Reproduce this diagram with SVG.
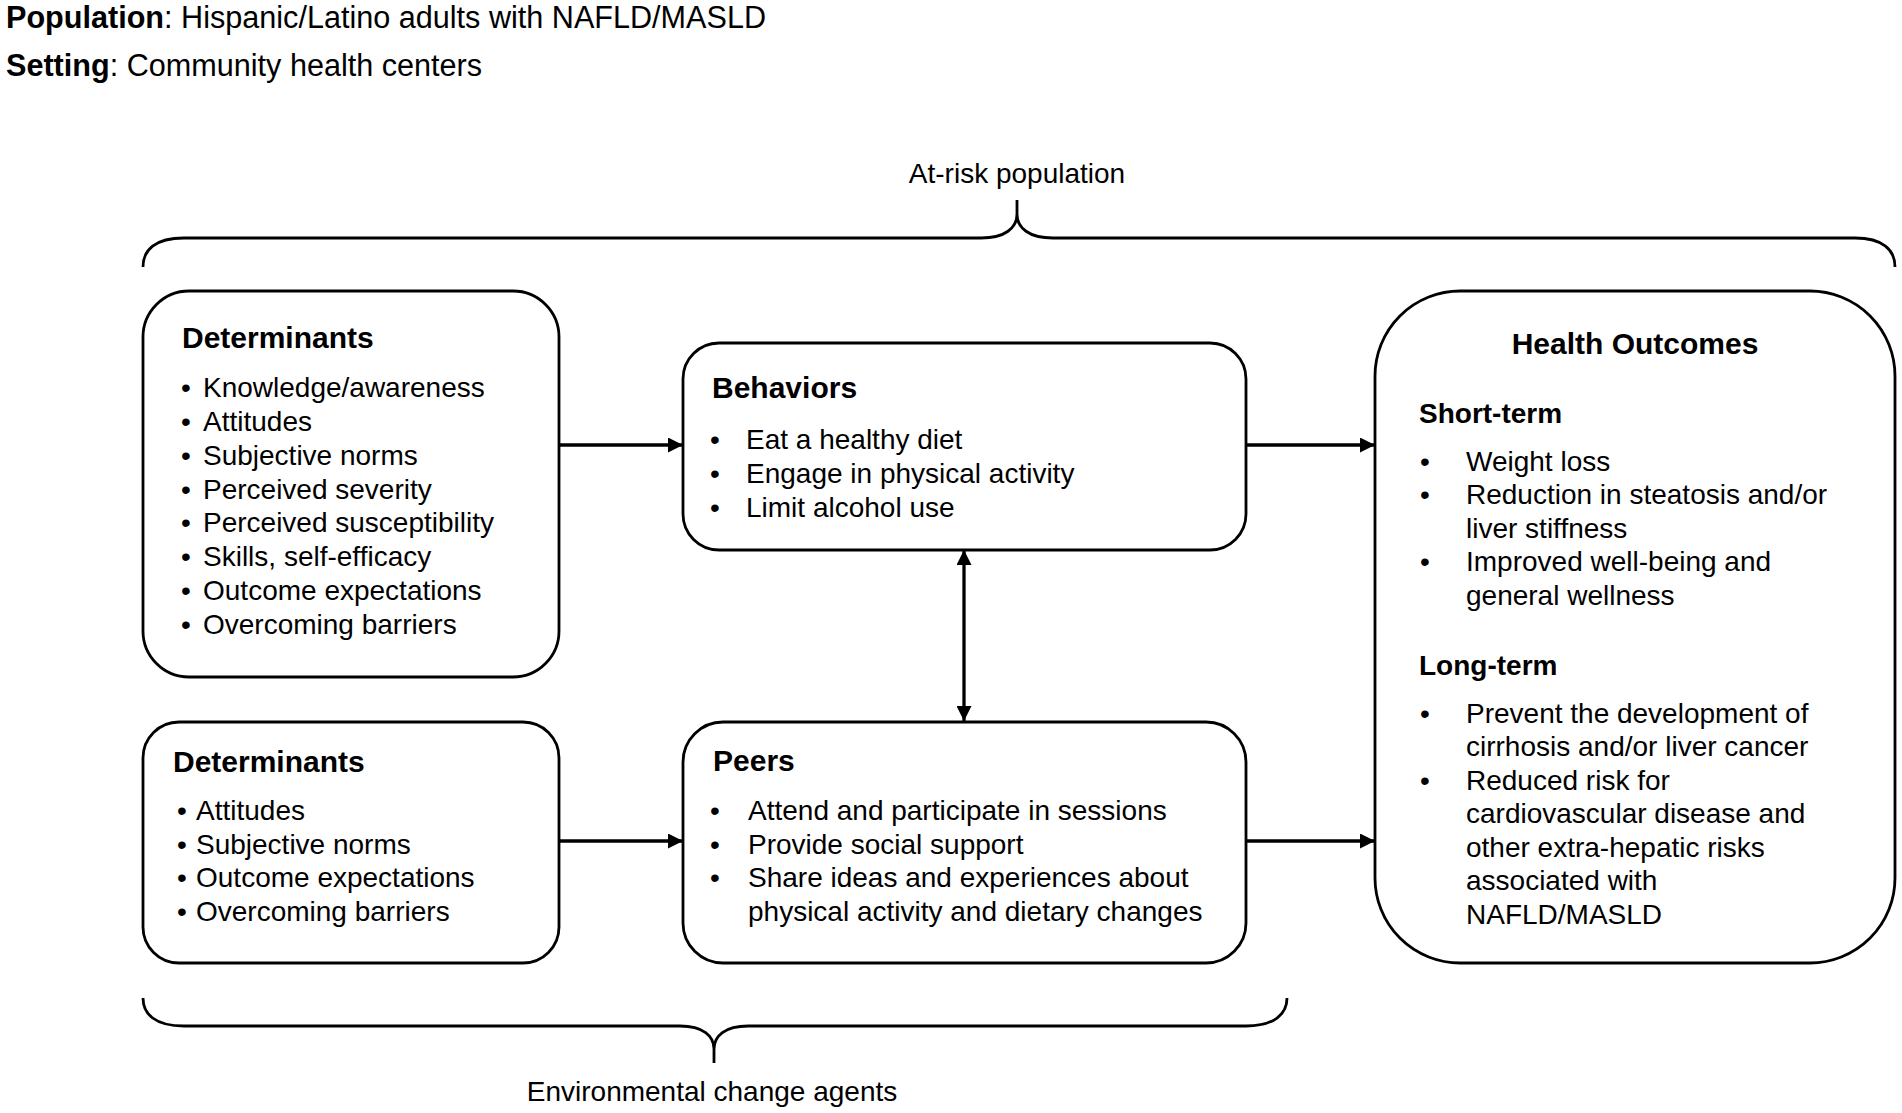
<svg xmlns="http://www.w3.org/2000/svg" width="1902" height="1113" viewBox="0 0 1902 1113">
<style>
text{font-family:"Liberation Sans",Arial,Helvetica,sans-serif;fill:#000}
.hd{font-size:30.6px}
.t{font-size:28px}
.h{font-size:30px;font-weight:bold}
.s{font-size:28px;font-weight:bold}
.b{font-weight:bold}
.box{fill:#fff;stroke:#000;stroke-width:2.8}
.br{fill:none;stroke:#000;stroke-width:2.8}
.ar{fill:none;stroke:#000;stroke-width:3.3}
</style>
<defs>
<marker id="ah" viewBox="0 0 10 10" refX="10" refY="5" markerUnits="userSpaceOnUse" markerWidth="16" markerHeight="15" orient="auto-start-reverse">
<path d="M0,0 L10,5 L0,10 z" fill="#000"/>
</marker>
</defs>
<rect width="1902" height="1113" fill="#fff"/>

<g id="header">
<text class="hd" x="6" y="28"><tspan class="b">Population</tspan>: Hispanic/Latino adults with NAFLD/MASLD</text>
<text class="hd" x="6" y="76"><tspan class="b">Setting</tspan>: Community health centers</text>
</g>

<g id="brace-top">
<text class="t" x="1017" y="183" text-anchor="middle">At-risk population</text>
<path class="br" d="M143,267 C143,250 155,238 184,238 L981,238 C1005,238 1017,228 1017,214 L1017,200 M1017,214 C1017,228 1029,238 1053,238 L1855,238 C1883,238 1895,250 1895,267"/>
</g>

<g id="brace-bottom">
<path class="br" d="M143,998 C143,1014 155,1026 184,1026 L680,1026 C703,1026 714,1036 714,1049 L714,1063 M714,1049 C714,1036 725,1026 748,1026 L1246,1026 C1274,1026 1287,1014 1287,998"/>
<text class="t" x="712" y="1101" text-anchor="middle">Environmental change agents</text>
</g>

<g id="determinants-1">
<rect class="box" x="143" y="291" width="416" height="386" rx="46"/>
<text class="h" x="182" y="348">Determinants</text>
<g class="t">
<text x="181" y="397">•</text><text x="203" y="397">Knowledge/awareness</text>
<text x="181" y="431">•</text><text x="203" y="431">Attitudes</text>
<text x="181" y="465">•</text><text x="203" y="465">Subjective norms</text>
<text x="181" y="499">•</text><text x="203" y="499">Perceived severity</text>
<text x="181" y="532">•</text><text x="203" y="532">Perceived susceptibility</text>
<text x="181" y="566">•</text><text x="203" y="566">Skills, self-efficacy</text>
<text x="181" y="600">•</text><text x="203" y="600">Outcome expectations</text>
<text x="181" y="634">•</text><text x="203" y="634">Overcoming barriers</text>
</g>
</g>

<g id="determinants-2">
<rect class="box" x="143" y="722" width="416" height="241" rx="36"/>
<text class="h" x="173" y="772">Determinants</text>
<g class="t">
<text x="177" y="820">•</text><text x="196" y="820">Attitudes</text>
<text x="177" y="854">•</text><text x="196" y="854">Subjective norms</text>
<text x="177" y="887">•</text><text x="196" y="887">Outcome expectations</text>
<text x="177" y="921">•</text><text x="196" y="921">Overcoming barriers</text>
</g>
</g>

<g id="behaviors">
<rect class="box" x="683" y="343" width="563" height="207" rx="36"/>
<text class="h" x="712" y="398">Behaviors</text>
<g class="t">
<text x="710" y="449">•</text><text x="746" y="449">Eat a healthy diet</text>
<text x="710" y="483">•</text><text x="746" y="483">Engage in physical activity</text>
<text x="710" y="517">•</text><text x="746" y="517">Limit alcohol use</text>
</g>
</g>

<g id="peers">
<rect class="box" x="683" y="722" width="563" height="241" rx="40"/>
<text class="h" x="713" y="771">Peers</text>
<g class="t">
<text x="710" y="820">•</text><text x="748" y="820">Attend and participate in sessions</text>
<text x="710" y="854">•</text><text x="748" y="854">Provide social support</text>
<text x="710" y="887">•</text><text x="748" y="887">Share ideas and experiences about</text>
<text x="748" y="921">physical activity and dietary changes</text>
</g>
</g>

<g id="health-outcomes">
<rect class="box" x="1375" y="291" width="520" height="672" rx="85"/>
<text class="h" x="1635" y="354" text-anchor="middle">Health Outcomes</text>
<text class="s" x="1419" y="423">Short-term</text>
<g class="t">
<text x="1420" y="471">•</text><text x="1466" y="471">Weight loss</text>
<text x="1420" y="504">•</text><text x="1466" y="504">Reduction in steatosis and/or</text>
<text x="1466" y="538">liver stiffness</text>
<text x="1420" y="571">•</text><text x="1466" y="571">Improved well-being and</text>
<text x="1466" y="605">general wellness</text>
</g>
<text class="s" x="1419" y="675">Long-term</text>
<g class="t">
<text x="1420" y="723">•</text><text x="1466" y="723">Prevent the development of</text>
<text x="1466" y="756">cirrhosis and/or liver cancer</text>
<text x="1420" y="790">•</text><text x="1466" y="790">Reduced risk for</text>
<text x="1466" y="823">cardiovascular disease and</text>
<text x="1466" y="857">other extra-hepatic risks</text>
<text x="1466" y="890">associated with</text>
<text x="1466" y="924">NAFLD/MASLD</text>
</g>
</g>

<g id="connectors">
<line class="ar" x1="559" y1="445" x2="683" y2="445" marker-end="url(#ah)"/>
<line class="ar" x1="559" y1="841" x2="683" y2="841" marker-end="url(#ah)"/>
<line class="ar" x1="1246" y1="445" x2="1375" y2="445" marker-end="url(#ah)"/>
<line class="ar" x1="1246" y1="841" x2="1375" y2="841" marker-end="url(#ah)"/>
<line class="ar" x1="964" y1="550" x2="964" y2="721" marker-start="url(#ah)" marker-end="url(#ah)"/>
</g>
</svg>
